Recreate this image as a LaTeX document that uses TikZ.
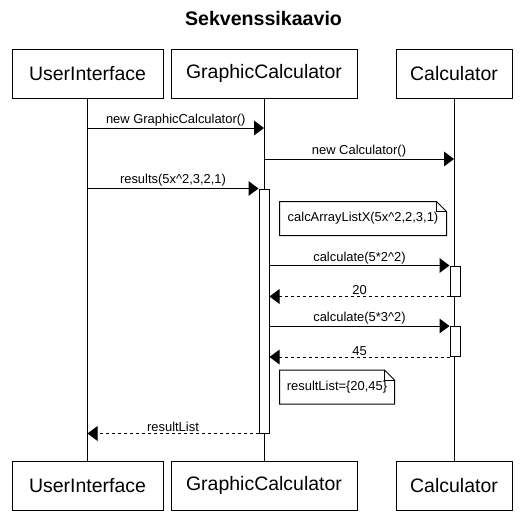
\documentclass[tikz,border=0pt]{standalone}
\usepackage{fontspec}
\setmainfont{Liberation Sans}
\usetikzlibrary{arrows.meta,positioning}

\begin{document}
\begin{tikzpicture}[x=0.75pt,y=-0.75pt,>={Triangle[length=7.5pt,width=11pt]},
                    line width=0.75pt,
                    actor/.style={draw,minimum height=36.75pt,inner sep=0pt,font=\fontsize{14.6}{17}\selectfont},
                    act/.style={draw,fill=white,minimum width=7.5pt,inner sep=0pt},
                    msg/.style={midway,above,inner sep=1pt,font=\fontsize{9.7}{11.6}\selectfont},
                    ret/.style={->,dash pattern=on 2.25pt off 2.25pt},
                    note/.style={inner sep=0pt,minimum height=24.75pt,font=\fontsize{9.7}{11.6}\selectfont}]
\useasboundingbox (0,0) rectangle (527,512);

\node[font=\fontsize{14.7}{17}\selectfont\bfseries] (title) at (263.5,18.5) {Sekvenssikaavio};

% top and bottom boxes
\node[actor,minimum width=113.25pt] (ui) at (87.5,73.5) {UserInterface};
\node[actor,minimum width=139.5pt] (gc) at (264,73.5) {GraphicCalculator};
\node[actor,minimum width=87pt] (calc) at (454,73.5) {Calculator};
\node[actor,minimum width=113.25pt] (ui2) [below=271.5pt of ui] {UserInterface};
\node[actor,minimum width=139.5pt] (gc2) [below=271.5pt of gc] {GraphicCalculator};
\node[actor,minimum width=87pt] (calc2) [below=271.5pt of calc] {Calculator};

% lifelines
\draw (ui) -- (ui2);
\draw (gc) -- (gc2);
\draw (calc) -- (calc2);

% activations
\node[act,minimum height=183pt] (a1) at (264,311) {};
\node[act,minimum height=22.5pt] (c1) at (455,281) {};
\node[act,minimum height=22.5pt] (c2) at (455,341.5) {};

\coordinate (y1) at (0,128);
\coordinate (y2) at (0,159);

% messages
\draw[->] (ui |- y1) -- (gc |- y1) node[msg] {new GraphicCalculator()};
\draw[->] (gc |- y2) -- (calc |- y2) node[msg] {new Calculator()};
\draw[->] (ui |- a1.north) -- (a1.north west) node[msg] {results(5x\textasciicircum2,3,2,1)};
\draw[->] (a1.east |- c1.north) -- (c1.north west) node[msg] {calculate(5*2\textasciicircum2)};
\draw[ret] (c1.south west) -- (a1.east |- c1.south) node[msg] {20};
\draw[->] (a1.east |- c2.north) -- (c2.north west) node[msg] {calculate(5*3\textasciicircum2)};
\draw[ret] (c2.south west) -- (a1.east |- c2.south) node[msg] {45};
\draw[ret] (a1.south west) -- (ui |- a1.south) node[msg] {resultList};

% notes
\node[note,minimum width=124.5pt] (n1) at (363,218.5) {calcArrayListX(5x\textasciicircum2,2,3,1)};
\draw (n1.north west) -- ([xshift=-7.5pt]n1.north east) -- ([yshift=-7.5pt]n1.north east)
      -- (n1.south east) -- (n1.south west) -- cycle;
\draw ([xshift=-7.5pt]n1.north east) |- ([yshift=-7.5pt]n1.north east);
\node[note,minimum width=85.5pt] (n2) at (337,387) {resultList=\{20,45\}};
\draw (n2.north west) -- ([xshift=-7.5pt]n2.north east) -- ([yshift=-7.5pt]n2.north east)
      -- (n2.south east) -- (n2.south west) -- cycle;
\draw ([xshift=-7.5pt]n2.north east) |- ([yshift=-7.5pt]n2.north east);
\end{tikzpicture}
\end{document}
